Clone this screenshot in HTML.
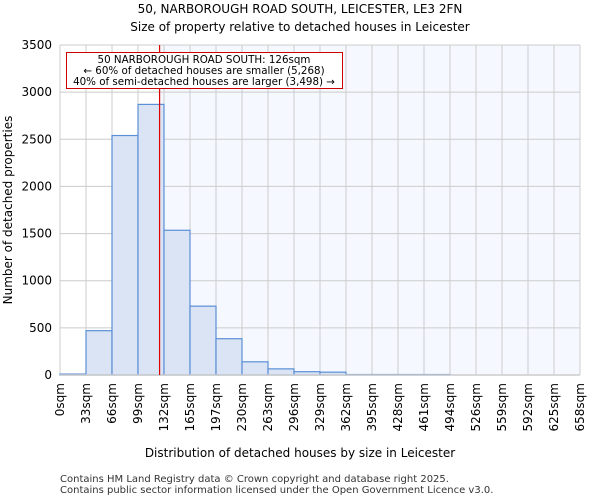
<!DOCTYPE html>
<html><head><meta charset="utf-8"><style>
body{margin:0;background:#fff;font-family:"DejaVu Sans","Liberation Sans",sans-serif;}
svg text{font-family:"DejaVu Sans","Liberation Sans",sans-serif;}
</style></head><body>
<svg id="c" width="600" height="500">
<text x="300" y="13" text-anchor="middle" font-size="12">50, NARBOROUGH ROAD SOUTH, LEICESTER, LE3 2FN</text>
<text x="300" y="31" text-anchor="middle" font-size="12">Size of property relative to detached houses in Leicester</text>
<g id="plot"></g>
<text x="300" y="457" text-anchor="middle" font-size="12">Distribution of detached houses by size in Leicester</text>
<text transform="translate(12,210) rotate(-90)" text-anchor="middle" font-size="12">Number of detached properties</text>
<text x="60" y="482" font-size="10" fill="#333">Contains HM Land Registry data © Crown copyright and database right 2025.</text>
<text x="60" y="493" font-size="10" fill="#333">Contains public sector information licensed under the Open Government Licence v3.0.</text>
</svg>
<script>
const binLabels=["0sqm","33sqm","66sqm","99sqm","132sqm","165sqm","197sqm","230sqm","263sqm","296sqm","329sqm","362sqm","395sqm","428sqm","461sqm","494sqm","526sqm","559sqm","592sqm","625sqm","658sqm"];
const counts=[10,470,2540,2870,1535,730,385,140,65,35,30,5,5,5,5,0,0,0,0,0];
const yTicks=[0,500,1000,1500,2000,2500,3000,3500];
const propertySize=126;
const maxSize=658;
const L=60,R=580,T=45,B=375,yMax=3500;
const NS="http://www.w3.org/2000/svg";
const g=document.getElementById('plot');
const xs=i=>L+i*(R-L)/counts.length;
const xv=v=>L+v/maxSize*(R-L);
const ys=v=>B-v/yMax*(B-T);
function mk(t,a){const e=document.createElementNS(NS,t);for(const k in a)e.setAttribute(k,a[k]);g.appendChild(e);return e;}
const px=xv(propertySize);
let bg=mk('rect',{x:px,y:T,width:R-px,height:B-T,fill:'#f5f8fe'});


yTicks.forEach(v=>{let l=mk('line',{x1:L,x2:R,y1:ys(v),y2:ys(v),stroke:'#cccccc'});


let t=mk('text',{x:L-8,y:ys(v)+4,'text-anchor':'end','font-size':12});t.textContent=v;

});
binLabels.forEach((s,i)=>{let l=mk('line',{x1:xs(i),x2:xs(i),y1:T,y2:B,stroke:'#cccccc'});


let t=mk('text',{transform:`translate(${xs(i)+4},${B+8}) rotate(-90)`,'text-anchor':'end','font-size':12});t.textContent=s;

});
counts.forEach((c,i)=>{if(c<=0)return;let r=mk('rect',{x:xs(i),y:ys(c),width:xs(i+1)-xs(i),height:B-ys(c),fill:'#dae4f4',stroke:'#5b8fd6','stroke-width':1.2});

});
let ax=mk('line',{x1:L,x2:R,y1:B,y2:B,stroke:'#cccccc','stroke-width':1.5});


let rl=mk('line',{x1:px,x2:px,y1:T,y2:B,stroke:'#dd0000','stroke-width':1.2});


let box=mk('rect',{x:66.5,y:52.5,width:276,height:36,fill:'#fff',stroke:'#cc0000'});


["50 NARBOROUGH ROAD SOUTH: 126sqm","← 60% of detached houses are smaller (5,268)","40% of semi-detached houses are larger (3,498) →"].forEach((s,i)=>{
let t=mk('text',{x:204,y:63+i*11,'text-anchor':'middle','font-size':10.3});t.textContent=s;

});
</script>
</body></html>
